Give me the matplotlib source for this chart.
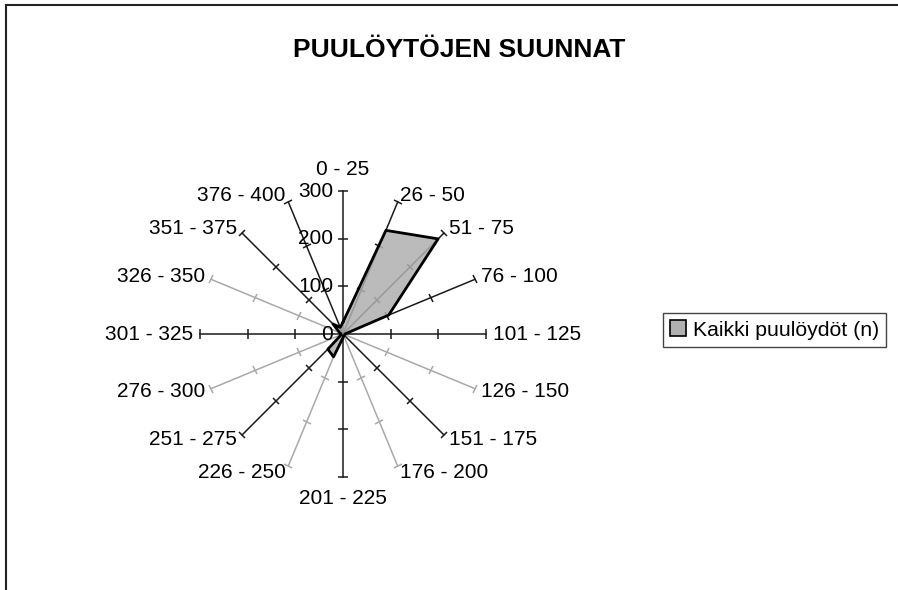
import numpy as np
import matplotlib
matplotlib.use("Agg")
import matplotlib.pyplot as plt
from matplotlib.markers import MarkerStyle
from matplotlib.transforms import Affine2D
from matplotlib.patches import Patch
from matplotlib.lines import Line2D

plt.rcParams["font.family"] = ["Liberation Sans", "DejaVu Sans"]

TITLE = "PUULÖYTÖJEN SUUNNAT"
SERIES_LABEL = "Kaikki puulöydöt (n)"

categories = [
    "0 - 25", "26 - 50", "51 - 75", "76 - 100",
    "101 - 125", "126 - 150", "151 - 175", "176 - 200",
    "201 - 225", "226 - 250", "251 - 275", "276 - 300",
    "301 - 325", "326 - 350", "351 - 375", "376 - 400",
]
counts = [25, 236, 283, 104, 4, 4, 4, 4, 8, 52, 45, 4, 4, 8, 30, 15]
value_ticks = [0, 100, 200, 300]

# spokes that come out pale grey in the scan
PALE = {"126 - 150", "176 - 200", "226 - 250", "276 - 300", "326 - 350"}

FS = 15


def main():
    fig = plt.figure(figsize=(8.98, 5.9), dpi=100)

    # radar centre at (343, 334) px, radius 300 -> 142.6 px
    cx, cy, rad = 343, 334, 142.6
    ax = fig.add_axes([(cx - rad) / 898, (590 - cy - rad) / 590,
                       2 * rad / 898, 2 * rad / 590], projection="polar")
    ax.set_theta_zero_location("N")
    ax.set_theta_direction(-1)
    ax.set_ylim(0, value_ticks[-1])
    ax.grid(False)
    ax.spines["polar"].set_visible(False)
    ax.set_xticks([])
    ax.set_yticks([])
    ax.patch.set_alpha(0)

    n = len(categories)
    angles = np.arange(n) * 2 * np.pi / n

    for ang, cat in zip(angles, categories):
        col = "#a9a9a9" if cat in PALE else "#1a1a1a"
        ax.plot([ang, ang], [0, value_ticks[-1]], color=col, lw=1.1,
                zorder=1, clip_on=False)
        tick = MarkerStyle("_", transform=Affine2D().rotate_deg(-np.degrees(ang)))
        ax.plot([ang] * 3, value_ticks[1:], ls="none", marker=tick,
                markersize=7, markeredgewidth=1.1, color=col,
                zorder=1, clip_on=False)

        s, c = np.sin(ang), np.cos(ang)
        if abs(c) > 0.95:
            ha = "center"
            va = "bottom" if c > 0 else "top"
            off = (0, 9 if c > 0 else -9)
        else:
            ha = "left" if s > 0 else "right"
            va = "center"
            off = (5 * s, 5 * c)
        ax.annotate(cat, (ang, value_ticks[-1]), xytext=off,
                    textcoords="offset points", ha=ha, va=va,
                    fontsize=FS, annotation_clip=False)

    for v in value_ticks:
        ax.annotate(str(v), (0, v), xytext=(-7, 0), textcoords="offset points",
                    ha="right", va="center", fontsize=FS, annotation_clip=False)

    th = np.append(angles, angles[0])
    vals = np.append(counts, counts[0])
    ax.fill(th, vals, color="#b0b0b0", alpha=0.85, zorder=2, lw=0)
    ax.plot(th, vals, color="black", lw=2, zorder=3)

    fig.text(0.511, 1 - 50 / 590, TITLE, ha="center", va="center",
             fontsize=19, fontweight="bold")

    handle = Patch(facecolor="#b0b0b0", edgecolor="black", lw=1.2)
    leg = fig.legend([handle], [SERIES_LABEL], loc="upper left",
                     bbox_to_anchor=(663 / 898, 1 - 313 / 590),
                     fontsize=15.3, fancybox=False, framealpha=1,
                     edgecolor="#444444", handlelength=0.75, handleheight=0.75,
                     handletextpad=0.3, borderpad=0.35, borderaxespad=0)
    leg.get_frame().set_linewidth(1.0)

    # scanned frame: only top and left edges are visible
    fig.add_artist(Line2D([6 / 898, 1], [1 - 5 / 590] * 2, color="#222222", lw=1.5))
    fig.add_artist(Line2D([6 / 898] * 2, [0, 1 - 5 / 590], color="#222222", lw=1.5))

    fig.savefig("out.png", dpi=100)


if __name__ == "__main__":
    main()
